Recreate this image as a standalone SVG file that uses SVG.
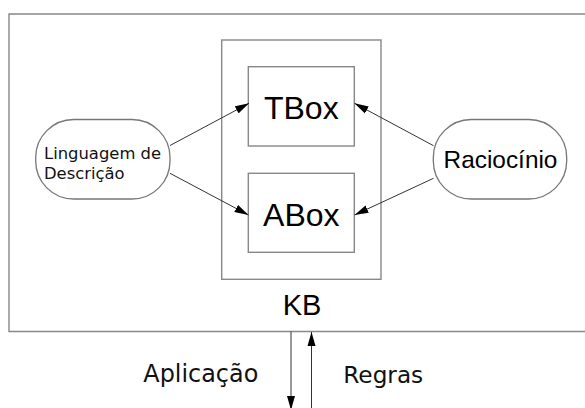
<svg xmlns="http://www.w3.org/2000/svg" width="585" height="408" viewBox="0 0 585 408">
<style>
.box{fill:none;stroke:#888;stroke-width:1.4}
.node{fill:#fff;stroke:#777;stroke-width:1.3}
.conn{stroke:#333;stroke-width:1;fill:none;marker-end:url(#ah)}
.big{font-family:"Liberation Sans",Arial,sans-serif;fill:#000;text-anchor:middle}
.dj{font-family:"DejaVu Sans",Verdana,sans-serif;fill:#111}
</style>
<defs>
<marker id="ah" markerUnits="userSpaceOnUse" markerWidth="15" markerHeight="9" viewBox="0 0 15 9" refX="14" refY="4.5" orient="auto">
<path d="M0,0.5 L14,4.5 L0,8.5 z" fill="#000"/>
</marker>
</defs>
<rect width="585" height="408" fill="#fff"/>
<g id="system">
<path class="box" d="M590,14 H9 V331.5 H590"/>
</g>
<g id="kb">
<rect class="box" x="221.7" y="40" width="159.3" height="239.3"/>
<text class="big" x="302" y="315" font-size="29">KB</text>
</g>
<g id="tbox">
<rect class="box" x="248.3" y="66.7" width="106" height="79.3"/>
<text class="big" x="301.3" y="119" font-size="32">TBox</text>
</g>
<g id="abox">
<rect class="box" x="248.3" y="173.3" width="106" height="79"/>
<text class="big" x="301.3" y="225.5" font-size="32">ABox</text>
</g>
<g id="linguagem">
<rect class="node" x="35.7" y="119.5" width="134.3" height="79.5" rx="38" ry="38"/>
<text class="dj" x="44" y="159" font-size="16.4">Linguagem de</text>
<text class="dj" x="44" y="179" font-size="16.4">Descrição</text>
</g>
<g id="raciocinio">
<rect class="node" x="433.3" y="119.5" width="133.4" height="79.5" rx="38" ry="38"/>
<text class="big" x="500.5" y="168" font-size="24.4" fill="#111">Raciocínio</text>
</g>
<g id="connectors">
<line class="conn" x1="170" y1="145.5" x2="249" y2="103.3"/>
<line class="conn" x1="170" y1="173.3" x2="248.5" y2="215"/>
<line class="conn" x1="433.5" y1="145.7" x2="354.5" y2="103.3"/>
<line class="conn" x1="433.5" y1="178.3" x2="354.5" y2="215"/>
<line class="conn" x1="291" y1="331.5" x2="291" y2="410"/>
<line class="conn" x1="311.5" y1="410" x2="311.5" y2="332"/>
</g>
<g id="labels">
<text class="dj" x="143.3" y="381.7" font-size="23.9">Aplicação</text>
<text class="dj" x="343.3" y="383.3" font-size="23.2">Regras</text>
</g>
</svg>
